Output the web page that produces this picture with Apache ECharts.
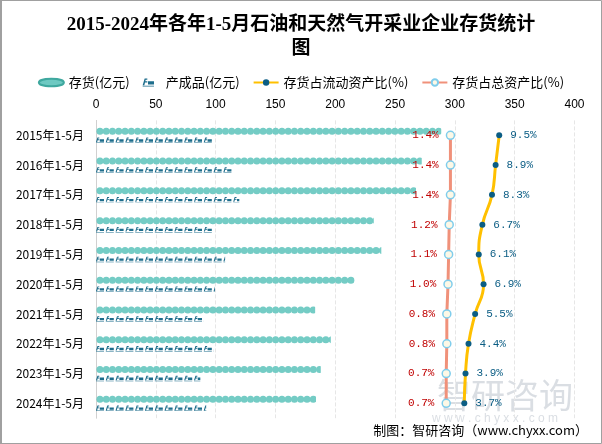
<!DOCTYPE html>
<html><head><meta charset="utf-8">
<script src="https://cdn.jsdelivr.net/npm/echarts@6/dist/echarts.min.js"></script>
<style>html,body{margin:0;padding:0;background:#fff}#c{width:602px;height:444px}</style>
</head><body><div id="c"></div>
<script>
var categories = ['2015年1-5月','2016年1-5月','2017年1-5月','2018年1-5月','2019年1-5月','2020年1-5月','2021年1-5月','2022年1-5月','2023年1-5月','2024年1-5月'];
var stockValues = [288.6, 272.3, 267.5, 232.2, 238.5, 216.3, 183.2, 196.3, 187.9, 184.0];
var productValues = [97.5, 114.5, 119.8, 97.5, 108.0, 99.5, 90.0, 98.4, 87.2, 92.2];
var currentRatio = [9.5, 8.9, 8.3, 6.7, 6.1, 6.9, 5.5, 4.4, 3.9, 3.7];
var totalRatio = [1.4, 1.4, 1.4, 1.2, 1.1, 1.0, 0.8, 0.8, 0.7, 0.7];
var xTicks = [0, 50, 100, 150, 200, 250, 300, 350, 400];

var chart = echarts.init(document.getElementById('c'), null, {renderer: 'canvas'});
var productPath = 'path://M0,10 L3,0 L7,0 L7,2 L4.5,2 L4,4 L7,4 L7,6 L3.5,6 L2.5,10 Z M8,4 L17,4 L17,9 L8,9 Z M0,11 L17,11 L17,12 L0,12 Z';
var serifFont = '"Liberation Serif", "Noto Sans CJK SC", serif';
var monoFont = '"Liberation Mono", "DejaVu Sans Mono", monospace';
var grids = {top: 120.4, bottom: 25.8};
chart.setOption({
  animation: false,
  backgroundColor: '#fff',
  title: {
    text: '2015-2024年各年1-5月石油和天然气开采业企业存货统计\n图',
    left: 'center', top: 8,
    textStyle: {fontFamily: serifFont, fontSize: 19, fontWeight: 'bold', color: '#000', lineHeight: 24}
  },
  legend: {
    top: 71, left: 'center', itemWidth: 25, itemHeight: 8, itemGap: 13,
    textStyle: {fontSize: 13, color: '#000', fontFamily: 'Noto Sans CJK SC'},
    data: [
      {name: '存货(亿元)', icon: 'path://M0,5 C0,0 25,0 25,5 C25,10 0,10 0,5 Z', itemStyle: {color: '#6ec9c2'}},
      {name: '产成品(亿元)', icon: productPath},
      {name: '存货占流动资产比(%)'},
      {name: '存货占总资产比(%)'}
    ]
  },
  grid: [
    {left: 96, right: 27.5, top: grids.top, bottom: grids.bottom},
    {left: 442, right: 27.5, top: grids.top, bottom: grids.bottom}
  ],
  xAxis: [
    {type: 'value', gridIndex: 0, position: 'top', min: xTicks[0], max: xTicks[xTicks.length-1], interval: 50,
     axisLine: {show: false}, axisTick: {show: false},
     axisLabel: {color: '#000', fontSize: 12, margin: 10, fontFamily: 'Liberation Sans'},
     splitLine: {show: true, lineStyle: {color: '#e6e6e6', type: 'dashed'}}},
    {type: 'value', gridIndex: 1, min: 0, max: 22, show: false}
  ],
  yAxis: [
    {type: 'category', gridIndex: 0, inverse: true, data: categories,
     axisLine: {show: true, lineStyle: {color: '#d0d0d0', width: 1}}, axisTick: {show: false},
     axisLabel: {color: '#000', fontSize: 12, margin: 12, fontFamily: 'Noto Sans CJK SC'}},
    {type: 'category', gridIndex: 1, inverse: true, data: categories, show: false}
  ],
  series: [
    {name: '存货(亿元)', type: 'pictorialBar', xAxisIndex: 0, yAxisIndex: 0, data: stockValues,
     symbol: 'circle', symbolRepeat: true, symbolSize: [7, 7], symbolMargin: -0.8, symbolClip: true,
     symbolPosition: 'start', symbolOffset: [0, -4], barGap: '-100%',
     itemStyle: {color: '#74ccc5', borderColor: '#3fa89f', borderWidth: 0.9}},
    {name: '产成品(亿元)', type: 'pictorialBar', xAxisIndex: 0, yAxisIndex: 0, data: productValues,
     symbol: productPath, symbolRepeat: true, symbolSize: [8, 5.5], symbolMargin: 1, symbolClip: true,
     symbolPosition: 'start', symbolOffset: [0, 5],
     itemStyle: {color: '#1d6d8c'}},
    {name: '存货占流动资产比(%)', type: 'line', xAxisIndex: 1, yAxisIndex: 1, data: currentRatio,
     smooth: true, symbol: 'circle', symbolSize: 6, z: 5,
     lineStyle: {color: '#ffc000', width: 3},
     itemStyle: {color: '#0b5d84'},
     label: {show: true, position: 'right', distance: 8, color: '#0b5d84', fontSize: 11, fontFamily: monoFont,
             formatter: function(p){ return p.value + '%'; }}},
    {name: '存货占总资产比(%)', type: 'line', xAxisIndex: 1, yAxisIndex: 1, data: totalRatio,
     symbol: 'circle', symbolSize: 8, z: 4,
     lineStyle: {color: '#f0917a', width: 3},
     itemStyle: {color: '#fdf8e6', borderColor: '#7fcdec', borderWidth: 1.5},
     label: {show: true, position: 'left', distance: 7, color: '#c00000', fontSize: 11, fontFamily: monoFont,
             formatter: function(p){ return p.value.toFixed(1) + '%'; }}}
  ],
  graphic: [
    {type: 'rect', shape: {x: 0.5, y: 0.5, width: 601, height: 443}, style: {fill: 'none', stroke: '#a0a0a0', lineWidth: 1}, silent: true, z: 100},
    {type: 'rect', shape: {x: 0, y: 0, width: 2, height: 444}, style: {fill: '#a0a0a0'}, silent: true, z: 100},
    {type: 'text', left: 437, top: 378, silent: true, z: 0,
     style: {text: '智研咨询', font: '34px "Noto Sans CJK SC"', fill: 'rgba(150,160,175,0.35)'}},
    {type: 'text', left: 432, top: 413, silent: true, z: 0,
     style: {text: 'w w w . c h y x x . c o m', font: '12px "Liberation Sans"', fill: 'rgba(150,160,175,0.35)'}},
    {type: 'text', right: 14, top: 424, silent: true, z: 101,
     style: {text: '制图：智研咨询（www.chyxx.com）', font: '13px "Noto Sans CJK SC"', fill: '#000'}}
  ]
});
</script></body></html>
